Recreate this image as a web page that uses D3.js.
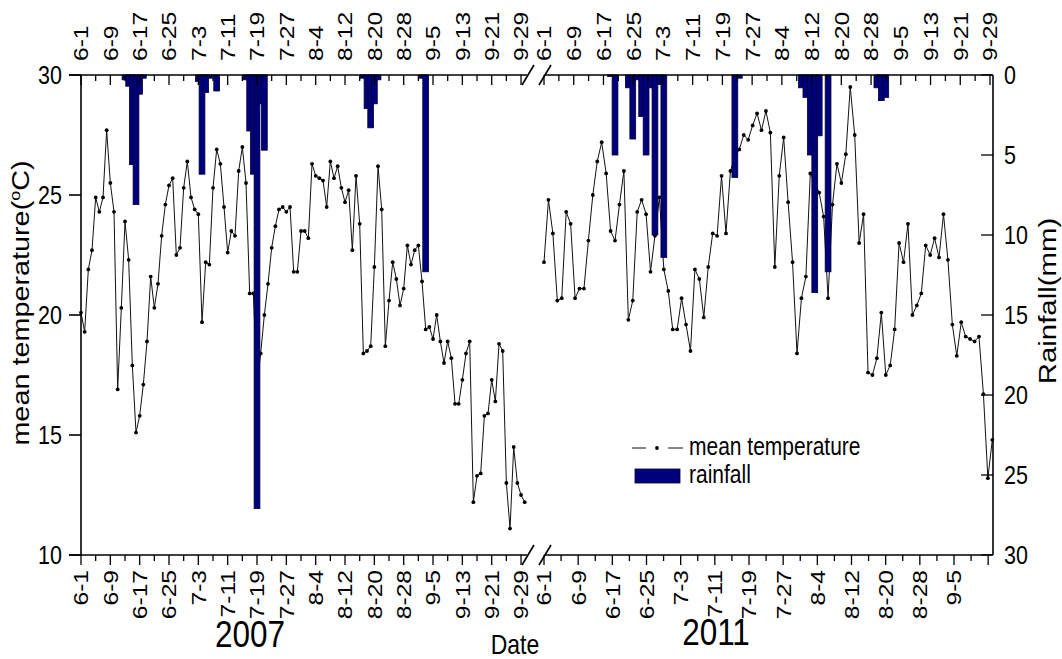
<!DOCTYPE html>
<html>
<head>
<meta charset="utf-8">
<script src="https://cdn.jsdelivr.net/npm/d3@7"></script>
<style>
  body { margin: 0; background: #fff; }
  svg { font-family: "Liberation Sans", Arial, sans-serif; }
</style>
</head>
<body>
<svg id="chart" width="1062" height="659"></svg>
<script>
// Daily mean temperature (°C), 2007, from 6-1 onward
const temp2007 = [
  20.1, 19.3, 21.9, 22.7, 24.9, 24.3, 24.9, 27.7, 25.5, 24.3,
  16.9, 20.3, 23.9, 22.3, 17.9, 15.1, 15.8, 17.1, 18.9, 21.6,
  20.3, 21.3, 23.3, 24.6, 25.4, 25.7, 22.5, 22.8, 25.3, 26.4,
  24.9, 24.4, 24.2, 19.7, 22.2, 22.1, 25.3, 26.9, 26.3, 24.5,
  22.6, 23.5, 23.3, 26.0, 27.0, 25.5, 20.9, 20.9, 17.1, 18.4,
  20.0, 21.3, 22.8, 23.7, 24.4, 24.5, 24.3, 24.5, 21.8, 21.8,
  23.5, 23.5, 23.2, 26.3, 25.8, 25.7, 25.6, 24.5, 26.4, 25.7,
  26.2, 25.3, 24.7, 25.2, 22.7, 25.8, 23.8, 18.4, 18.5, 18.7,
  22.0, 26.2, 24.4, 18.7, 20.6, 22.2, 21.5, 20.4, 21.1, 22.9,
  22.1, 22.7, 22.9, 21.4, 19.4, 19.5, 19.0, 20.0, 18.9, 18.0,
  18.9, 18.2, 16.3, 16.3, 17.3, 18.4, 18.9, 12.2, 13.3, 13.4,
  15.8, 15.9, 17.3, 16.4, 18.8, 18.5, 13.0, 11.1, 14.5, 13.0,
  12.5, 12.2
];
// Daily mean temperature (°C), 2011, from 6-1 onward
const temp2011 = [
  22.2, 24.8, 23.4, 20.6, 20.7, 24.3, 23.8, 20.7, 21.1, 21.1,
  23.1, 25.0, 26.4, 27.2, 25.9, 23.5, 23.1, 24.6, 26.0, 19.8,
  20.6, 24.3, 24.8, 24.2, 21.8, 23.3, 24.9, 21.9, 21.0, 19.4,
  19.4, 20.7, 19.6, 18.5, 21.9, 21.5, 19.9, 22.0, 23.4, 23.3,
  25.8, 23.4, 26.0, 26.6, 26.9, 27.5, 27.3, 27.9, 28.4, 27.7,
  28.5, 27.6, 22.0, 25.8, 27.4, 24.7, 22.2, 18.4, 20.7, 21.6,
  25.9, 25.5, 25.1, 24.1, 20.7, 24.6, 26.3, 25.5, 26.7, 29.5,
  27.5, 23.0, 24.2, 17.6, 17.5, 18.2, 20.1, 17.5, 17.9, 19.4,
  23.0, 22.2, 23.8, 20.0, 20.4, 20.9, 22.9, 22.5, 23.2, 22.4,
  24.2, 22.3, 19.6, 18.3, 19.7, 19.1, 19.0, 18.9, 19.1, 16.7,
  13.2, 14.8
];
// Rain days (offset from 6-1) and amounts (mm)
const rainDays2007 = [12, 13, 14, 15, 16, 17, 32, 33, 34, 35, 37, 45, 46, 47, 48, 49, 50, 77, 78, 79, 80, 81, 93, 94];
const rain2007     = [0.3, 0.7, 5.6, 8.1, 1.2, 0.2, 0.4, 6.2, 1.1, 0.2, 1.0, 0.3, 3.5, 6.2, 27.1, 1.8, 4.7, 0.2, 2.1, 3.3, 1.8, 0.3, 0.2, 12.3];
const rainDays2011 = [15, 16, 19, 20, 21, 22, 23, 24, 25, 26, 27, 43, 44, 58, 59, 60, 61, 62, 64, 75, 76, 77];
const rain2011     = [0.1, 5.0, 0.8, 4.0, 0.3, 2.6, 5.0, 0.8, 10.0, 0.6, 11.4, 6.4, 0.2, 0.8, 1.4, 5.0, 13.6, 3.8, 12.3, 0.8, 1.6, 1.4];

// Date tick labels, one every 8 days from 6-1
const dateLabels = ["6-1", "6-9", "6-17", "6-25", "7-3", "7-11", "7-19", "7-27",
                    "8-4", "8-12", "8-20", "8-28", "9-5", "9-13", "9-21", "9-29"];
const labelDays = dateLabels.map((_, i) => i * 8);
const tempTicks = [10, 15, 20, 25, 30];
const rainTicks = [0, 5, 10, 15, 20, 25, 30];

const svg = d3.select("#chart");
const L = 81, R = 993, T = 75, B = 555;
const NAVY = "#00007c";
const ink = "#000";
const STRETCH = 1.2;   // text is drawn taller than wide

const y = d3.scaleLinear().domain([10, 30]).range([B, T]);
const yRain = d3.scaleLinear().domain([0, 30]).range([T, B]);

// x scales: each year's data, plus the separate 2011 top and bottom date axes
const x07 = d3.scaleLinear().domain([0, 121]).range([81, 524.7]);
const x11 = d3.scaleLinear().domain([0, 101]).range([544, 992.3]);
const x11Top = d3.scaleLinear().domain([0, 120]).range([544, 990]);
const x11Bot = d3.scaleLinear().domain([0, 96]).range([544, 954]);

// horizontal text, stretched vertically
function hText(x, yy, str, size, anchor) {
  return svg.append("text")
    .attr("transform", `translate(${x},${yy}) scale(1,${STRETCH})`)
    .attr("text-anchor", anchor || "start").attr("font-size", size).text(str);
}
// text reading bottom-to-top, stretched along its length
function vText(parent, x, yy, size, anchor) {
  return parent.append("text")
    .attr("transform", `translate(${x},${yy}) rotate(-90) scale(${STRETCH},1)`)
    .attr("text-anchor", anchor).attr("font-size", size);
}

// temperature lines
const line = d3.line().x(d => d[0]).y(d => y(d[1]));
function drawTemp(vals, xs) {
  const pts = vals.map((v, i) => [xs(i), v]);
  svg.append("path").datum(pts).attr("d", line)
    .attr("fill", "none").attr("stroke", "#111").attr("stroke-width", 1);
  svg.append("g").selectAll("circle").data(pts).join("circle")
    .attr("cx", d => d[0]).attr("cy", d => y(d[1])).attr("r", 1.9).attr("fill", "#000");
}
drawTemp(temp2007, x07);
drawTemp(temp2011, x11);

// rainfall bars hang from the top edge
const barW = 5.8;
function drawRain(days, vals, xs) {
  svg.append("g").selectAll("rect").data(days.map((d, i) => [d, vals[i]])).join("rect")
    .attr("x", d => xs(d[0]) - barW / 2).attr("width", barW)
    .attr("y", yRain(0)).attr("height", d => yRain(d[1]) - yRain(0))
    .attr("fill", NAVY).attr("stroke", "#000030").attr("stroke-width", 0.8);
}
drawRain(rainDays2007, rain2007, x07);
drawRain(rainDays2011, rain2011, x11);

// frame: left and right axes, broken top and bottom edges
const fw = 1.6;
svg.append("line").attr("x1", L).attr("x2", L).attr("y1", T).attr("y2", B).attr("stroke", ink).attr("stroke-width", fw);
svg.append("line").attr("x1", R).attr("x2", R).attr("y1", T).attr("y2", B).attr("stroke", ink).attr("stroke-width", fw);
[T, B].forEach(yy => {
  svg.append("line").attr("x1", L - 12).attr("x2", 527).attr("y1", yy).attr("y2", yy).attr("stroke", ink).attr("stroke-width", fw);
  svg.append("line").attr("x1", 544).attr("x2", R).attr("y1", yy).attr("y2", yy).attr("stroke", ink).attr("stroke-width", fw);
  [528, 545].forEach(cx => {
    svg.append("line").attr("x1", cx - 6).attr("y1", yy + 10).attr("x2", cx + 6).attr("y2", yy - 10)
      .attr("stroke", ink).attr("stroke-width", fw);
  });
});

// date axes: ticks every 4 days, labels every 8
function dateAxis(xs, yPos, maxDay, top, minorEnd) {
  const g = svg.append("g").attr("transform", `translate(0,${yPos})`);
  const ticks = d3.range(0, (minorEnd ?? maxDay) + 1, 4);
  const sgn = top ? 1 : 1; // top ticks point into the plot, bottom ticks hang below
  g.selectAll("line").data(ticks).join("line")
    .attr("x1", d => xs(d)).attr("x2", d => xs(d))
    .attr("y1", 0).attr("y2", d => sgn * (d % 8 === 0 ? 10 : 6))
    .attr("stroke", ink).attr("stroke-width", 1.3);
  labelDays.filter(d => d <= maxDay).forEach(d => {
    vText(g, xs(d), top ? -14 : 15, 20.5, top ? "start" : "end")
      .attr("dy", "0.36em").text(dateLabels[labelDays.indexOf(d)]);
  });
}
dateAxis(x07, T, 120, true);
dateAxis(x11Top, T, 120, true);
dateAxis(x07, B, 120, false);
dateAxis(x11Bot, B, 96, false, 104);

// temperature axis (left), ticks outside
svg.append("g").selectAll("line").data(tempTicks).join("line")
  .attr("x1", L - 12).attr("x2", L).attr("y1", d => y(d)).attr("y2", d => y(d))
  .attr("stroke", ink).attr("stroke-width", fw);
tempTicks.forEach(d => hText(62, y(d), d, 21.5, "end").attr("dy", "0.36em"));

// rainfall axis (right), ticks inside
svg.append("g").selectAll("line").data(rainTicks).join("line")
  .attr("x1", R - 12).attr("x2", R).attr("y1", d => yRain(d)).attr("y2", d => yRain(d))
  .attr("stroke", ink).attr("stroke-width", 1.3);
rainTicks.forEach(d => hText(1004, yRain(d), d, 21.5, "start").attr("dy", "0.36em"));

// axis titles
const lt = vText(svg, 29, 303, 24, "middle");
lt.append("tspan").text("mean temperature(");
lt.append("tspan").attr("font-size", 15).attr("dy", -9).text("o");
lt.append("tspan").attr("dy", 9).text("C)");
vText(svg, 1056, 301, 24.5, "middle").text("Rainfall(mm)");
hText(515, 654, "Date", 23, "middle");
hText(250, 647, "2007", 31.5, "middle");
hText(716, 645, "2011", 31.5, "middle");

// legend
const lg = svg.append("g");
lg.append("line").attr("x1", 632).attr("x2", 646).attr("y1", 448).attr("y2", 448).attr("stroke", "#111").attr("stroke-width", 1);
lg.append("line").attr("x1", 668).attr("x2", 683).attr("y1", 448).attr("y2", 448).attr("stroke", "#111").attr("stroke-width", 1);
lg.append("circle").attr("cx", 657).attr("cy", 448).attr("r", 1.9).attr("fill", "#000");
hText(689, 455, "mean temperature", 21);
lg.append("rect").attr("x", 635).attr("y", 469).attr("width", 45).attr("height", 14)
  .attr("fill", NAVY).attr("stroke", "#000030").attr("stroke-width", 0.8);
hText(689, 483, "rainfall", 21);
</script>
</body>
</html>
